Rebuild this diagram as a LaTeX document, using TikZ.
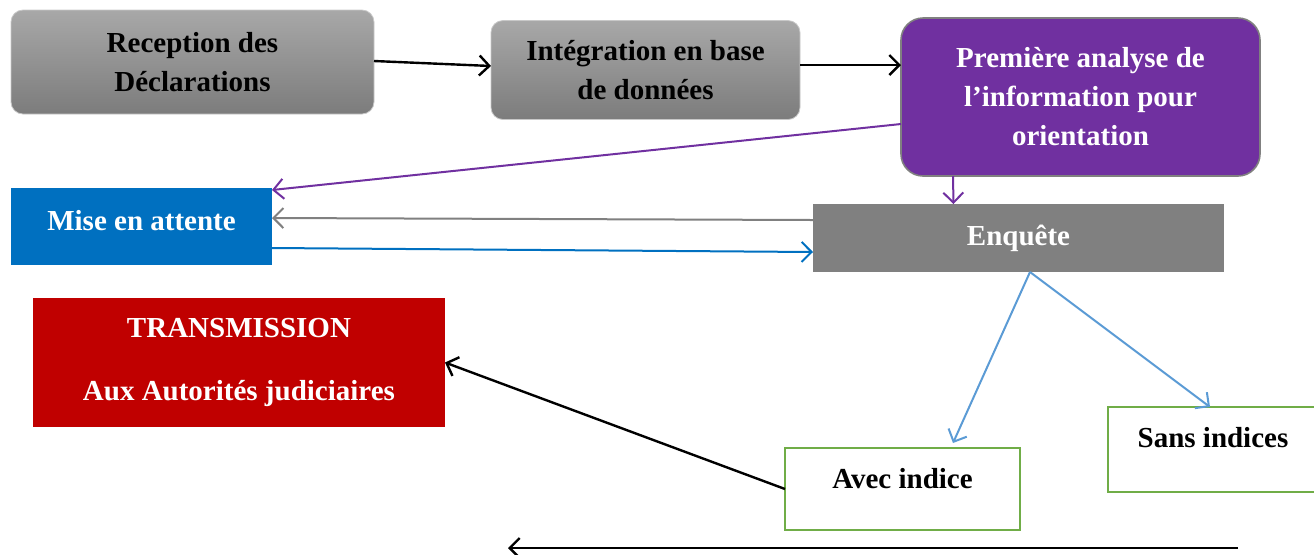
\documentclass[tikz,border=0pt]{standalone}
\usepackage{fontspec}
\setmainfont{Liberation Serif}
\usetikzlibrary{
  calc,
  arrows.meta
}

\definecolor{boxpurple}{HTML}{7030A0}
\definecolor{boxblue}{HTML}{0070C0}
\definecolor{boxred}{HTML}{C00000}
\definecolor{boxgreen}{HTML}{70AD47}
\definecolor{linkblue}{HTML}{5B9BD5}

\begin{document}
\begin{tikzpicture}[x=0.5pt,y=-0.5pt]
  \tikzset{
    stepbox/.style = {
      inner sep=0pt, outer sep=0pt, align=center,
      font=\fontsize{14.5}{19.5}\selectfont\bfseries,
    },
    oneline/.style = {text height=10pt, text depth=#1},
    graybox/.style = {
      stepbox, rounded corners=6pt, draw={rgb,255:red,200;green,200;blue,200},
      top color={rgb,255:red,168;green,168;blue,168},
      bottom color={rgb,255:red,124;green,124;blue,124},
    },
    flatbox/.style = {stepbox, text=white},
    resultbox/.style = {stepbox, draw=boxgreen, line width=1pt, fill=white},
    link/.style = {line width=1pt, -{Straight Barb[length=5pt,width=10pt]}},
  }
  \useasboundingbox (0,0) rectangle (1314,554);

  % chain along the top
  \node[graybox, minimum width=181.5pt, minimum height=52pt]
    (rec) at (192.5,62) {Reception des\\ Déclarations};
  \node[graybox, minimum width=154.5pt, minimum height=49.5pt]
    (int) at (645.5,70) {Intégration en base\\ de données};
  \node[flatbox, rounded corners=11pt, fill=boxpurple, draw=gray, line width=0.8pt,
    minimum width=179.5pt, minimum height=79pt]
    (prem) at (1080.5,97) {Première analyse de\\ l’information pour\\ orientation};

  % middle row
  \node[flatbox, oneline=6pt, fill=boxblue, minimum width=130.5pt, minimum height=38.5pt]
    (mise) at (141.5,226.5) {Mise en attente};
  \node[flatbox, oneline=2.5pt, fill=gray, minimum width=205.5pt, minimum height=34pt]
    (enq) at (1018.5,238) {Enquête};

  % outcomes
  \node[flatbox, fill=boxred, minimum width=206pt, minimum height=64.5pt]
    (trans) at (239,362.5) {TRANSMISSION\\[12pt] Aux Autorités judiciaires};
  \node[resultbox, oneline=10.5pt, minimum width=117.5pt, minimum height=41pt]
    (avec) at (902.5,489) {Avec indice};
  \node[resultbox, oneline=12pt, minimum width=105pt, minimum height=42.5pt]
    (sans) at (1213,449.5) {Sans indices};

  \coordinate (back-a) at (1238,548);
  \coordinate (back-b) at (508,548);

  % connectors
  \draw[link, line width=1.2pt] ($(rec.east)+(0,-1)$) -- ($(int.west)+(0,-4)$);
  \draw[link, line width=1.2pt] ($(int.east)+(0,-5)$) -- ($(int.east -| prem.west)+(0,-5)$);
  \draw[link, boxpurple] ($(prem.west)+(0,27)$) -- ($(mise.north east)+(0,2)$);
  \draw[link, boxpurple] ($(prem.south)+(-127.5,0)$) -- ($(enq.north)+(-65,0)$);
  \draw[link, gray] ($(enq.west)+(0,-18)$) -- ($(mise.east)+(0,-8.5)$);
  \draw[link, boxblue] ($(mise.east)+(0,21.5)$) -- ($(enq.west)+(0,14)$);
  \foreach \dst/\dx/\dy in {avec/50.5/-5,sans/-3/0}
    \draw[link, linkblue] ($(enq.south)+(11.5,0)$) -- ($(\dst.north)+(\dx,\dy)$);
  \draw[link, line width=1.2pt] (avec.west) -- (trans.east);
  \draw[link, line width=1.2pt] (back-a) -- (back-b);
\end{tikzpicture}
\end{document}
